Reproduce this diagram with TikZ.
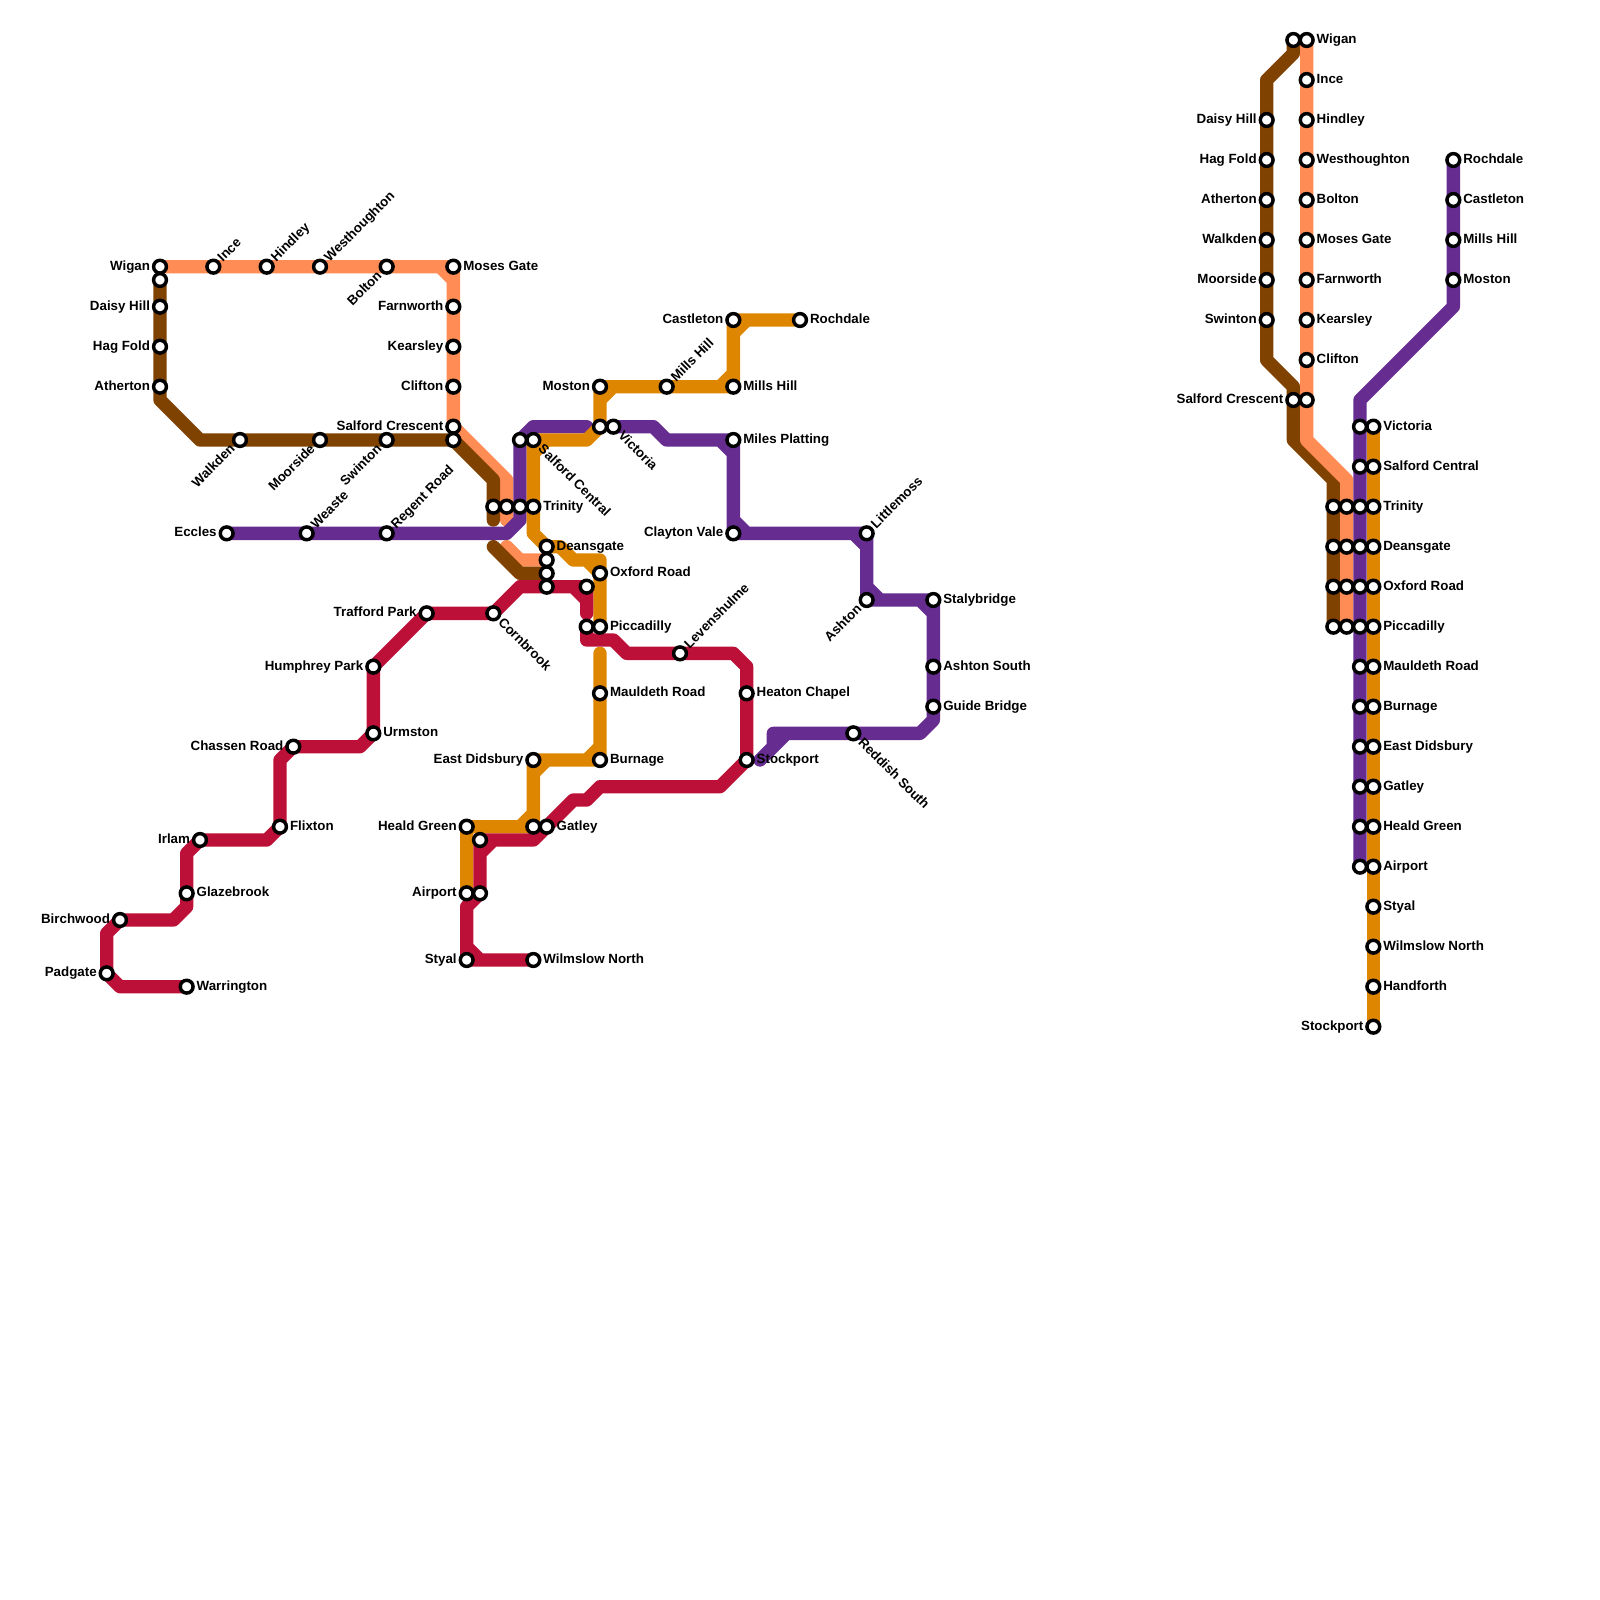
\documentclass[tikz,border=0pt]{standalone}
\usepackage{fontspec}
\setmainfont{Liberation Sans}
\pgfdeclarelayer{lines}
\pgfsetlayers{lines,main}
\definecolor{lcoral}{HTML}{FF8C55}
\definecolor{lbrown}{HTML}{7F4200}
\definecolor{lpurple}{HTML}{662C90}
\definecolor{lorange}{HTML}{DF8600}
\definecolor{lred}{HTML}{BD1038}
\tikzset{
  st/.style={circle,draw=black,fill=white,line width=2.6pt,minimum size=9.6pt,inner sep=0pt,outer sep=0pt},
  lb/.style={inner sep=0pt,outer sep=0pt,font=\fontsize{10pt}{12pt}\selectfont\bfseries,text=black},
  track/.style={line width=10pt,line cap=round,line join=round},
  coral/.style={track,draw=lcoral},
  brown/.style={track,draw=lbrown},
  violet/.style={track,draw=lpurple},
  amber/.style={track,draw=lorange},
  crimson/.style={track,draw=lred}
}
\newcommand\sN[3]{\node[st](#1) at (#2,#3){};}
\newcommand\sR[4]{\node[st](#1) at (#2,#3){};\node[lb,anchor=base west](#1-t) at (#2+.75,#3+.27){#4};}
\newcommand\sL[4]{\node[st](#1) at (#2,#3){};\node[lb,anchor=base east](#1-t) at (#2-.75,#3+.27){#4};}
\newcommand\sU[4]{\node[st](#1) at (#2,#3){};\node[lb,rotate=45,anchor=base west](#1-t) at (#2+.72,#3-.32){#4};}
\newcommand\sD[4]{\node[st](#1) at (#2,#3){};\node[lb,rotate=-45,anchor=base west](#1-t) at (#2+.32,#3+.74){#4};}
\newcommand\sB[4]{\node[st](#1) at (#2,#3){};\node[lb,rotate=45,anchor=base east](#1-t) at (#2-.32,#3+.74){#4};}
\begin{document}
\begin{tikzpicture}[x=10pt,y=-10pt]
\useasboundingbox (0,0) rectangle (120,120);
% --- bends and free ends
\foreach \x/\y in {33/20,34/21,38/36,38/39,38/41,39/42,12/30,15/33,37/36,37/39,37/41,39/43,
  38/40,39/39,40/32,44/32,49/32,50/33,54/33,55/34,55/39,56/40,64/40,65/41,65/44,66/45,69/45,70/46,
  70/54,69/55,59/55,58/55,58/56,57/57,
  56/24,55/25,55/28,54/29,46/29,45/30,44/33,41/33,40/34,40/40,42/41,43/42,45/42,44/42,45/46,45/49,
  45/56,44/57,41/57,40/58,40/61,39/62,
  39/44,43/44,44/45,44/46,44/48,46/48,47/49,55/49,56/50,54/59,45/59,44/60,43/60,40/63,37/63,36/64,35/68,35/71,36/72,
  27/56,21/57,20/63,14/64,14/68,13/69,8/70,9/74,
  97/4,95/6,95/27,97/29,97/33,100/36,98/33,101/36,109/23,102/30}
  {\coordinate (p\x-\y) at (\x,\y);}
% --- left map stations
\sL{wigan}{12}{20}{Wigan}
\sU{ince}{16}{20}{Ince}
\sU{hindley}{20}{20}{Hindley}
\sU{westhoughton}{24}{20}{Westhoughton}
\sB{bolton}{29}{20}{Bolton}
\sR{moses}{34}{20}{Moses Gate}
\sL{farnworth}{34}{23}{Farnworth}
\sL{kearsley}{34}{26}{Kearsley}
\sL{clifton}{34}{29}{Clifton}
\sL{salfordcr}{34}{32}{Salford Crescent}
\sN{brownstart}{12}{21}
\sL{daisy}{12}{23}{Daisy Hill}
\sL{hagfold}{12}{26}{Hag Fold}
\sL{atherton}{12}{29}{Atherton}
\sB{walkden}{18}{33}{Walkden}
\sB{moorside}{24}{33}{Moorside}
\sB{swinton}{29}{33}{Swinton}
\sN{salfordcrb}{34}{33}
\sN{trinb}{37}{38}
\sN{trinc}{38}{38}
\sN{trinp}{39}{38}
\sR{trinity}{40}{38}{Trinity}
\sL{eccles}{17}{40}{Eccles}
\sU{weaste}{23}{40}{Weaste}
\sU{regent}{29}{40}{Regent Road}
\sN{scp}{39}{33}
\sD{salfordcen}{40}{33}{Salford Central}
\sN{victoriao}{45}{32}
\sD{victoria}{46}{32}{Victoria}
\sR{miles}{55}{33}{Miles Platting}
\sL{clayton}{55}{40}{Clayton Vale}
\sU{littlemoss}{65}{40}{Littlemoss}
\sB{ashton}{65}{45}{Ashton}
\sR{stalybridge}{70}{45}{Stalybridge}
\sR{ashtons}{70}{50}{Ashton South}
\sR{guide}{70}{53}{Guide Bridge}
\sD{reddish}{64}{55}{Reddish South}
\sR{rochdale}{60}{24}{Rochdale}
\sL{castleton}{55}{24}{Castleton}
\sR{millso}{55}{29}{Mills Hill}
\sU{millst}{50}{29}{Mills Hill}
\sL{moston}{45}{29}{Moston}
\sR{deansgate}{41}{41}{Deansgate}
\sN{deansc}{41}{42}
\sN{deansb}{41}{43}
\sN{deansr}{41}{44}
\sR{oxford}{45}{43}{Oxford Road}
\sR{piccadilly}{45}{47}{Piccadilly}
\sN{oxr}{44}{44}
\sN{picr}{44}{47}
\sR{mauldeth}{45}{52}{Mauldeth Road}
\sR{burnage}{45}{57}{Burnage}
\sL{didsbury}{40}{57}{East Didsbury}
\sN{gatleyo}{40}{62}
\sR{gatley}{41}{62}{Gatley}
\sL{heald}{35}{62}{Heald Green}
\sN{healdr}{36}{63}
\sL{airport}{35}{67}{Airport}
\sN{airportr}{36}{67}
\sL{styal}{35}{72}{Styal}
\sR{wilmslow}{40}{72}{Wilmslow North}
\sD{cornbrook}{37}{46}{Cornbrook}
\sL{trafford}{32}{46}{Trafford Park}
\sL{humphrey}{28}{50}{Humphrey Park}
\sR{urmston}{28}{55}{Urmston}
\sL{chassen}{22}{56}{Chassen Road}
\sR{flixton}{21}{62}{Flixton}
\sL{irlam}{15}{63}{Irlam}
\sR{glazebrook}{14}{67}{Glazebrook}
\sL{birchwood}{9}{69}{Birchwood}
\sL{padgate}{8}{73}{Padgate}
\sR{warrington}{14}{74}{Warrington}
\sU{levenshulme}{51}{49}{Levenshulme}
\sR{heaton}{56}{52}{Heaton Chapel}
\sR{stockport}{56}{57}{Stockport}
% --- right diagram stations
\sN{rb0}{97}{3}
\sL{rdaisy}{95}{9}{Daisy Hill}
\sL{rhag}{95}{12}{Hag Fold}
\sL{rath}{95}{15}{Atherton}
\sL{rwalk}{95}{18}{Walkden}
\sL{rmoor}{95}{21}{Moorside}
\sL{rswin}{95}{24}{Swinton}
\sL{rscb}{97}{30}{Salford Crescent}
\sN{rscc}{98}{30}
\sR{rwigan}{98}{3}{Wigan}
\sR{rince}{98}{6}{Ince}
\sR{rhind}{98}{9}{Hindley}
\sR{rwest}{98}{12}{Westhoughton}
\sR{rbolt}{98}{15}{Bolton}
\sR{rmose}{98}{18}{Moses Gate}
\sR{rfarn}{98}{21}{Farnworth}
\sR{rkear}{98}{24}{Kearsley}
\sR{rclif}{98}{27}{Clifton}
\sR{rroch}{109}{12}{Rochdale}
\sR{rcast}{109}{15}{Castleton}
\sR{rmill}{109}{18}{Mills Hill}
\sR{rmost}{109}{21}{Moston}
\foreach \y in {38,41,44,47}{\sN{b\y}{100}{\y}\sN{c\y}{101}{\y}}
\foreach \y in {32,35,38,41,44,47,50,53,56,59,62,65}{\sN{v\y}{102}{\y}}
\sR{o32}{103}{32}{Victoria}
\sR{o35}{103}{35}{Salford Central}
\sR{o38}{103}{38}{Trinity}
\sR{o41}{103}{41}{Deansgate}
\sR{o44}{103}{44}{Oxford Road}
\sR{o47}{103}{47}{Piccadilly}
\sR{o50}{103}{50}{Mauldeth Road}
\sR{o53}{103}{53}{Burnage}
\sR{o56}{103}{56}{East Didsbury}
\sR{o59}{103}{59}{Gatley}
\sR{o62}{103}{62}{Heald Green}
\sR{o65}{103}{65}{Airport}
\sR{o68}{103}{68}{Styal}
\sR{o71}{103}{71}{Wilmslow North}
\sR{o74}{103}{74}{Handforth}
\sL{o77}{103}{77}{Stockport}
% --- lines
\begin{pgfonlayer}{lines}
\draw[coral] (wigan.center)--(ince.center)--(hindley.center)--(westhoughton.center)--(bolton.center)--(moses.center)--(farnworth.center)--(kearsley.center)--(clifton.center)--(salfordcr.center)--(p38-36)--(p38-39) (p33-20)--(p34-21);
\draw[coral] (p38-41)--(p39-42)--(deansc.center);
\draw[brown] (brownstart.center)--(daisy.center)--(hagfold.center)--(atherton.center)--(p12-30)--(p15-33)--(walkden.center)--(moorside.center)--(swinton.center)--(salfordcrb.center)--(p37-36)--(trinb.center)--(p37-39);
\draw[brown] (p37-41)--(p39-43)--(deansb.center);
\draw[violet] (eccles.center)--(weaste.center)--(regent.center)--(p38-40)--(p39-39)--(trinp.center)--(scp.center)--(p40-32)--(p44-32);
\draw[violet] (victoria.center)--(p49-32)--(p50-33)--(miles.center)--(clayton.center)--(littlemoss.center)--(ashton.center)--(stalybridge.center)--(ashtons.center)--(guide.center)--(p70-54)--(p69-55)--(reddish.center)--(p58-55)--(p58-56)--(p57-57) (p54-33)--(p55-34) (p55-39)--(p56-40) (p64-40)--(p65-41) (p65-44)--(p66-45) (p69-45)--(p70-46) (p59-55)--(p57-57);
\draw[amber] (rochdale.center)--(castleton.center)--(millso.center)--(millst.center)--(moston.center)--(victoriao.center)--(p44-33)--(salfordcen.center)--(trinity.center)--(p40-40)--(deansgate.center)--(p42-41)--(p43-42)--(p45-42)--(oxford.center)--(piccadilly.center) (p56-24)--(p55-25) (p55-28)--(p54-29) (p46-29)--(p45-30) (p41-33)--(p40-34) (p44-42)--(oxford.center);
\draw[amber] (p45-49)--(mauldeth.center)--(burnage.center)--(didsbury.center)--(gatleyo.center)--(heald.center)--(airport.center) (p45-56)--(p44-57) (p41-57)--(p40-58) (p40-61)--(p39-62);
\draw[crimson] (warrington.center)--(p9-74)--(padgate.center)--(p8-70)--(birchwood.center)--(p13-69)--(p14-68)--(glazebrook.center)--(p14-64)--(irlam.center)--(p20-63)--(flixton.center)--(p21-57)--(chassen.center)--(p27-56)--(urmston.center)--(humphrey.center)--(trafford.center)--(cornbrook.center)--(p39-44)--(deansr.center)--(oxr.center)--(p44-46) (p43-44)--(p44-45);
\draw[crimson] (picr.center)--(p44-48)--(p46-48)--(p47-49)--(levenshulme.center)--(p55-49)--(p56-50)--(heaton.center)--(stockport.center)--(p54-59)--(p45-59)--(p44-60)--(p43-60)--(gatley.center)--(p40-63)--(healdr.center)--(airportr.center)--(p35-68)--(styal.center)--(wilmslow.center) (p37-63)--(p36-64) (p35-71)--(p36-72);
% right
\draw[brown] (rb0.center)--(p97-4)--(p95-6)--(rdaisy.center)--(rhag.center)--(rath.center)--(rwalk.center)--(rmoor.center)--(rswin.center)--(p95-27)--(p97-29)--(rscb.center)--(p97-33)--(p100-36)--(b38.center)--(b41.center)--(b44.center)--(b47.center);
\draw[coral] (rwigan.center)--(rince.center)--(rhind.center)--(rwest.center)--(rbolt.center)--(rmose.center)--(rfarn.center)--(rkear.center)--(rclif.center)--(rscc.center)--(p98-33)--(p101-36)--(c38.center)--(c41.center)--(c44.center)--(c47.center);
\draw[violet] (rroch.center)--(rcast.center)--(rmill.center)--(rmost.center)--(p109-23)--(p102-30)--(v32.center)--(v35.center)--(v38.center)--(v41.center)--(v44.center)--(v47.center)--(v50.center)--(v53.center)--(v56.center)--(v59.center)--(v62.center)--(v65.center);
\draw[amber] (o32.center)--(o35.center)--(o38.center)--(o41.center)--(o44.center)--(o47.center)--(o50.center)--(o53.center)--(o56.center)--(o59.center)--(o62.center)--(o65.center)--(o68.center)--(o71.center)--(o74.center)--(o77.center);
\end{pgfonlayer}
\end{tikzpicture}
\end{document}
